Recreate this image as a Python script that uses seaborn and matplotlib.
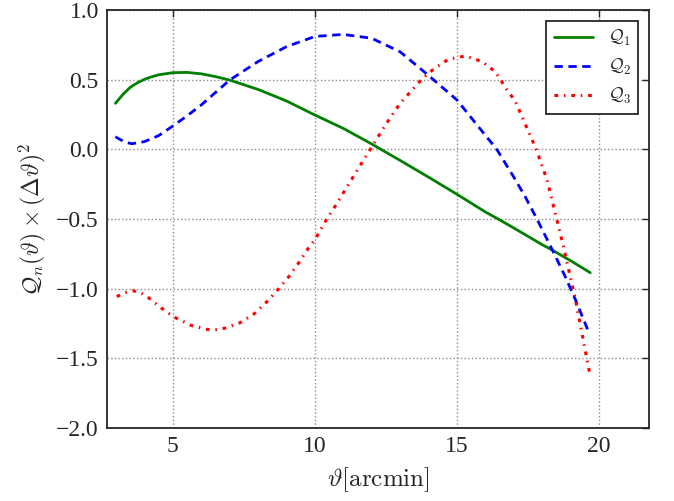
import numpy as np
import pandas as pd
import seaborn as sns
import matplotlib.pyplot as plt

# values
theta_q1 = [2.98, 3.25, 3.5, 3.75, 4.0, 4.25, 4.5, 5.0, 5.5, 6.0, 6.5, 7.0, 8.0, 9.0, 10.0,
            11.0, 12.0, 13.0, 14.0, 15.0, 16.0, 16.4, 17.0, 18.0, 18.35, 19.0, 19.69]
q1 = [0.33, 0.395, 0.445, 0.477, 0.502, 0.52, 0.535, 0.55, 0.552, 0.542, 0.522, 0.497,
      0.43, 0.347, 0.246, 0.15, 0.038, -0.08, -0.20, -0.323, -0.45, -0.495, -0.565,
      -0.685, -0.723, -0.80, -0.886]

theta_q2 = [2.98, 3.3, 3.56, 4.0, 4.5, 5.0, 5.5, 6.0, 7.0, 8.0, 9.0, 10.0, 11.0, 12.0, 13.0,
            14.0, 15.0, 16.0, 16.4, 17.0, 17.4, 17.8, 18.35, 18.8, 19.17, 19.61]
q2 = [0.09, 0.052, 0.04, 0.055, 0.098, 0.167, 0.24, 0.318, 0.497, 0.63, 0.737, 0.81, 0.825,
      0.797, 0.70, 0.53, 0.354, 0.10, 0.0, -0.20, -0.34, -0.495, -0.72, -0.91, -1.08, -1.30]

theta_q3 = [3.03, 3.3, 3.59, 3.9, 4.14, 4.6, 5.0, 5.64, 6.2, 6.51, 6.82, 7.37, 7.87, 8.31,
            8.72, 9.10, 9.45, 9.77, 10.0, 10.42, 10.74, 11.4, 11.95, 12.5, 13.0, 13.77, 14.2,
            14.7, 15.29, 15.88, 16.35, 16.76, 17.05, 17.34, 17.79, 18.17, 18.75, 19.17, 19.69]
q3 = [-1.058, -1.03, -1.015, -1.035, -1.065, -1.14, -1.20, -1.264, -1.293, -1.295, -1.285,
      -1.245, -1.18, -1.094, -1.003, -0.91, -0.81, -0.71, -0.65, -0.50, -0.40, -0.18, 0.0,
      0.18, 0.33, 0.505, 0.58, 0.646, 0.67, 0.63, 0.557, 0.426, 0.347, 0.21, 0.0, -0.22,
      -0.70, -1.08, -1.63]

sns.set_style("whitegrid")
plt.rcParams['font.family'] = ['Liberation Serif', 'DejaVu Serif']
plt.rcParams['mathtext.fontset'] = 'cm'

fig, ax = plt.subplots(figsize=(6.74, 5.01), dpi=100)
fig.subplots_adjust(left=0.159, right=0.963, top=0.98, bottom=0.146)

sns.lineplot(x=theta_q1, y=q1, ax=ax, color=(0, 0.5, 0), lw=2, sort=False,
             estimator=None, label=r'$\mathcal{Q}_1$')
sns.lineplot(x=theta_q2, y=q2, ax=ax, color='b', lw=2, sort=False,
             estimator=None, linestyle=(0, (3, 2)), label=r'$\mathcal{Q}_2$')
sns.lineplot(x=theta_q3, y=q3, ax=ax, color='r', lw=2.2, sort=False,
             estimator=None, linestyle=(0, (1.2, 1.9, 0.5, 1.9)), label=r'$\mathcal{Q}_3$')

ax.set_xlim(2.69, 21.76)
ax.set_ylim(-2.0, 1.0)
ax.set_xticks([5, 10, 15, 20])
ax.set_yticks(np.arange(-2.0, 1.01, 0.5))
ax.set_yticklabels([f'{v:.1f}'.replace('-', '\u2212') for v in np.arange(-2.0, 1.01, 0.5)])

ax.grid(True, color='0.55', linestyle=':', lw=1)
for s in ax.spines.values():
    s.set_color('0.15')
    s.set_linewidth(1.3)
ax.tick_params(direction='in', length=5, width=1, top=True, right=True,
               labelsize=17, colors='0.15', pad=6)

ax.set_xlabel(r'$\vartheta[\mathrm{arcmin}]$', fontsize=18, color='0.15', labelpad=6)
ax.set_ylabel(r'$\mathcal{Q}_n(\vartheta)\times(\Delta\vartheta)^2$', fontsize=17,
              color='0.15', labelpad=6)

leg = ax.legend(loc='upper right', fontsize=13, frameon=True, fancybox=False,
                edgecolor='0.15', handlelength=2.2, borderaxespad=0.6)
leg.get_frame().set_linewidth(1.3)
leg.get_frame().set_alpha(1)

fig.savefig('out.png', dpi=100)
